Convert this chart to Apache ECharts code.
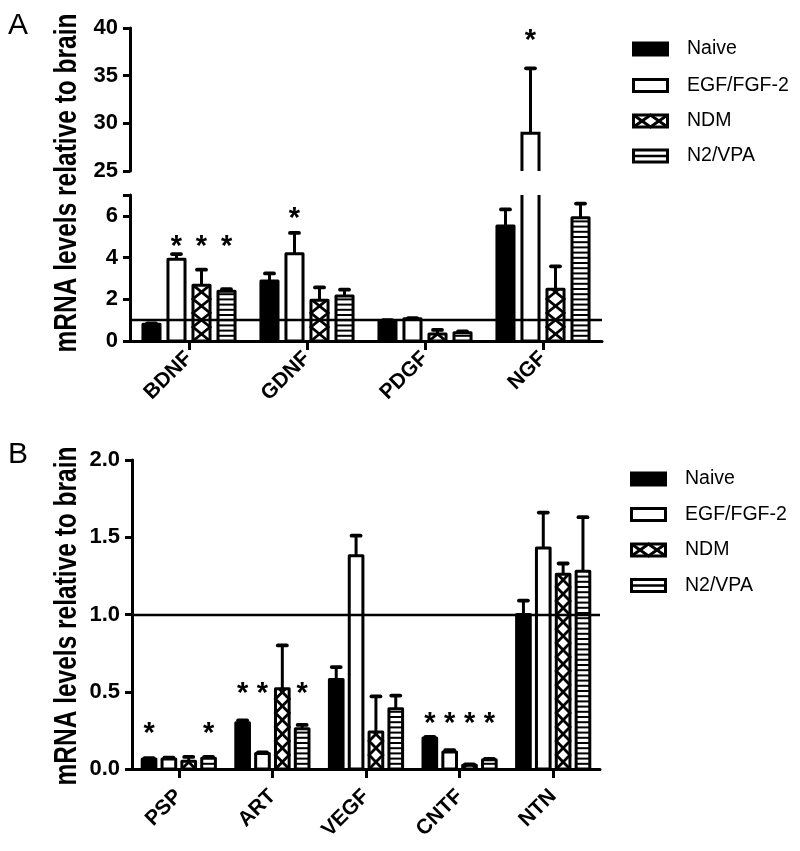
<!DOCTYPE html>
<html><head><meta charset="utf-8">
<script src="https://cdn.jsdelivr.net/npm/echarts@6/dist/echarts.min.js"></script>
<style>html,body{margin:0;padding:0;background:#fff}#c{width:800px;height:851px}</style>
</head><body><div id="c"></div>
<script>
// ---------- DATA ----------
const groups = ['Naive', 'EGF/FGF-2', 'NDM', 'N2/VPA'];

// Panel A
const catsA = ['BDNF', 'GDNF', 'PDGF', 'NGF'];
const naiveA = [0.80, 2.88, 0.97, 5.51];
const naiveErrA = [0.04, 0.36, 0.03, 0.80];
const egfA = [3.92, 4.18, 1.07, 28.97];
const egfErrA = [0.25, 1.00, 0.03, 6.80];
const ndmA = [2.67, 1.95, 0.33, 2.48];
const ndmErrA = [0.75, 0.62, 0.20, 1.10];
const n2A = [2.38, 2.16, 0.40, 5.91];
const n2ErrA = [0.10, 0.30, 0.06, 0.68];
// significance marks (level of the asterisk, in axis units)
const starNaiveA = [null, null, null, null];
const starEgfA = [4.85, 6.2, null, 39.4];
const starNdmA = [4.85, null, null, null];
const starN2A = [4.85, null, null, null];
const ticksAUpper = [25, 30, 35, 40];
const ticksALower = [0, 2, 4, 6];

// Panel B
const catsB = ['PSP', 'ART', 'VEGF', 'CNTF', 'NTN'];
const naiveB = [0.065, 0.30, 0.58, 0.20, 1.00];
const naiveErrB = [0.005, 0.015, 0.08, 0.008, 0.09];
const egfB = [0.065, 0.10, 1.38, 0.11, 1.43];
const egfErrB = [0.008, 0.008, 0.13, 0.012, 0.23];
const ndmB = [0.05, 0.52, 0.24, 0.025, 1.26];
const ndmErrB = [0.028, 0.28, 0.23, 0.005, 0.07];
const n2B = [0.07, 0.26, 0.39, 0.06, 1.28];
const n2ErrB = [0.008, 0.025, 0.085, 0.006, 0.35];
const starNaiveB = [0.27, 0.53, null, 0.335, null];
const starEgfB = [null, 0.53, null, 0.335, null];
const starNdmB = [null, null, null, 0.335, null];
const starN2B = [0.27, 0.53, null, 0.335, null];
const ticksB = [0, 0.5, 1.0, 1.5, 2.0];

const refLevel = 1;

// ---------- DRAWING ----------
const FONT = 'Liberation Sans, Arial, sans-serif';
const LW = 3;
const kinds = ['naive', 'egf', 'ndm', 'n2'];

function patternEls(kind, xl, xr, yt, yb) {
  const els = [];
  if (kind === 'ndm') {
    const h = 14;
    [true, false].forEach(function (startLeft) {
      const pts = [];
      let y = yb, left = startLeft;
      pts.push([left ? xl : xr, y]);
      while (y > yt) {
        const ny = y - h;
        if (ny < yt) {
          const t = (y - yt) / h;
          const cx = left ? xl + (xr - xl) * t : xr - (xr - xl) * t;
          pts.push([cx, yt]);
          break;
        }
        pts.push([left ? xr : xl, ny]);
        y = ny; left = !left;
      }
      els.push({ type: 'polyline', shape: { points: pts }, style: { stroke: '#000', lineWidth: 2.8, fill: null } });
    });
  } else if (kind === 'n2') {
    for (let y = yb - 5.2; y > yt + 2; y -= 5.2) {
      els.push({ type: 'line', shape: { x1: xl, y1: y, x2: xr, y2: y }, style: { stroke: '#000', lineWidth: 2 } });
    }
  }
  return els;
}

function makeBarRender(slot, kind, wf, sf) {
  return function (params, api) {
    const cat = api.value(0), v = api.value(1), err = api.value(2);
    const cs = params.coordSys;
    const band = api.size([1, 0])[0];
    const base = api.coord([cat, 0]);
    const xc = base[0] + (slot - 1.5) * sf * band;
    const w = wf * band;
    const gTop = cs.y, gBot = cs.y + cs.height;
    const yv = api.coord([cat, v])[1];
    if (yv >= gBot - 0.5) return null;
    const topOpen = yv < gTop;
    const botOpen = base[1] > gBot + 0.5;
    const yt = topOpen ? gTop : yv;
    const yb = botOpen ? gBot : base[1];
    const xl = xc - w / 2 + LW / 2, xr = xc + w / 2 - LW / 2;
    const children = [];
    children.push({ type: 'rect', shape: { x: xl, y: yt, width: xr - xl, height: yb - yt }, style: { fill: kind === 'naive' ? '#000' : '#fff' } });
    patternEls(kind, xl, xr, yt, yb).forEach(function (e) { children.push(e); });
    let pts = null;
    if (topOpen) pts = [[xl, yt], [xl, yb], [xr, yb], [xr, yt]];
    else if (botOpen) pts = [[xl, yb], [xl, yt], [xr, yt], [xr, yb]];
    if (pts) children.push({ type: 'polyline', shape: { points: pts }, style: { stroke: '#000', lineWidth: LW, fill: null } });
    else children.push({ type: 'rect', shape: { x: xl, y: yt, width: xr - xl, height: yb - yt }, style: { stroke: '#000', lineWidth: LW, fill: null, lineJoin: 'round' } });
    if (!topOpen && err > 0) {
      const ye = api.coord([cat, v + err])[1];
      children.push({ type: 'line', shape: { x1: xc, y1: yt, x2: xc, y2: ye }, style: { stroke: '#000', lineWidth: LW } });
      children.push({ type: 'line', shape: { x1: xc - 4.5, y1: ye, x2: xc + 4.5, y2: ye }, style: { stroke: '#000', lineWidth: 3.8, lineCap: 'round' } });
    }
    return { type: 'group', children: children };
  };
}

function barSeries(xi, yi, slot, vals, errs, wf, sf) {
  return {
    type: 'custom', xAxisIndex: xi, yAxisIndex: yi, z: 3, silent: true,
    renderItem: makeBarRender(slot, kinds[slot], wf, sf),
    encode: { x: 0, y: 1 },
    data: vals.map(function (v, i) { return [i, v, errs[i]]; })
  };
}

function starSeries(xi, yi, starArrs, sf) {
  const data = [];
  starArrs.forEach(function (arr, slot) {
    arr.forEach(function (lv, i) { if (lv != null) data.push([i, lv, slot]); });
  });
  return {
    type: 'custom', xAxisIndex: xi, yAxisIndex: yi, z: 4, silent: true,
    encode: { x: 0, y: 1 },
    data: data,
    renderItem: function (params, api) {
      const cat = api.value(0), lv = api.value(1), slot = api.value(2);
      const cs = params.coordSys;
      const band = api.size([1, 0])[0];
      const p = api.coord([cat, lv]);
      if (p[1] < cs.y - 20 || p[1] > cs.y + cs.height) return null;
      const xc = p[0] + (slot - 1.5) * sf * band;
      return { type: 'text', x: xc, y: p[1] + 7, style: { text: '*', font: 'bold 29px ' + FONT, fill: '#000', textAlign: 'center', textVerticalAlign: 'middle' } };
    }
  };
}

function refSeries(xi, yi) {
  return {
    type: 'line', xAxisIndex: xi, yAxisIndex: yi, data: [], z: 1, silent: true,
    markLine: { silent: true, symbol: ['none', 'none'], label: { show: false },
      lineStyle: { color: '#000', width: 2.4, type: 'solid' }, emphasis: { disabled: true },
      data: [{ yAxis: refLevel }] }
  };
}

const axisLineStyle = { show: true, lineStyle: { color: '#000', width: 3 } };
const yLabel = { color: '#000', fontSize: 22, fontWeight: 'bold', fontFamily: FONT, margin: 12 };
const tickStyle = { show: true, length: 7, lineStyle: { color: '#000', width: 3 } };

function xAxisCfg(gi, cats, show, margin) {
  return {
    type: 'category', gridIndex: gi, data: cats, show: show,
    axisLine: axisLineStyle,
    axisTick: { show: true, alignWithLabel: true, length: 9, lineStyle: { color: '#000', width: 3 } },
    axisLabel: { color: '#000', fontSize: 21, fontWeight: 'bold', fontFamily: FONT, rotate: 45, margin: margin, interval: 0 },
    splitLine: { show: false }
  };
}

// legend drawing (graphic)
function legendEls(x0, centers) {
  const els = [];
  const sw = 37, sh = 15;
  centers.forEach(function (cy, i) {
    const xl = x0 + LW / 2, xr = x0 + sw - LW / 2, yt = cy - sh / 2 + LW / 2, yb = cy + sh / 2 - LW / 2;
    const kind = kinds[i];
    els.push({ type: 'rect', shape: { x: xl, y: yt, width: xr - xl, height: yb - yt }, style: { fill: kind === 'naive' ? '#000' : '#fff' } });
    if (kind === 'ndm') {
      const cw = (xr - xl) / 2;
      const a = [], b = [];
      for (let k = 0; k <= 2; k++) {
        a.push([xl + k * cw, k % 2 === 0 ? yt : yb]);
        b.push([xl + k * cw, k % 2 === 0 ? yb : yt]);
      }
      els.push({ type: 'polyline', shape: { points: a }, style: { stroke: '#000', lineWidth: 3, fill: null } });
      els.push({ type: 'polyline', shape: { points: b }, style: { stroke: '#000', lineWidth: 3, fill: null } });
    } else if (kind === 'n2') {
      els.push({ type: 'line', shape: { x1: xl, y1: cy, x2: xr, y2: cy }, style: { stroke: '#000', lineWidth: 2.5 } });
    }
    els.push({ type: 'rect', shape: { x: xl, y: yt, width: xr - xl, height: yb - yt }, style: { stroke: '#000', lineWidth: LW, fill: null } });
    els.push({ type: 'text', x: x0 + 55, y: cy, style: { text: groups[i], font: '19.5px ' + FONT, fill: '#000', textAlign: 'left', textVerticalAlign: 'middle' } });
  });
  return els;
}

const graphics = [
  { type: 'text', x: 8, y: 26, style: { text: 'A', font: '30px ' + FONT, fill: '#000', textAlign: 'left', textVerticalAlign: 'middle' } },
  { type: 'text', x: 8, y: 455, style: { text: 'B', font: '30px ' + FONT, fill: '#000', textAlign: 'left', textVerticalAlign: 'middle' } },
  { type: 'text', x: 68, y: 183, rotation: Math.PI / 2, scaleY: 1.25, style: { text: 'mRNA levels relative to brain', font: 'bold 24.5px ' + FONT, fill: '#000', textAlign: 'center', textVerticalAlign: 'middle' } },
  { type: 'text', x: 68, y: 616, rotation: Math.PI / 2, scaleY: 1.25, style: { text: 'mRNA levels relative to brain', font: 'bold 24.5px ' + FONT, fill: '#000', textAlign: 'center', textVerticalAlign: 'middle' } }
].concat(legendEls(632, [49, 85.5, 121, 156])).concat(legendEls(630, [479, 514.5, 550, 585.5]));

const WA = 0.17, SA = 0.212, WB = 0.178, SB = 0.212;

const option = {
  animation: false,
  backgroundColor: '#fff',
  grid: [
    { left: 130, top: 28, width: 472, height: 143 },
    { left: 130, top: 195, width: 472, height: 146 },
    { left: 132, top: 460, width: 468, height: 309 }
  ],
  xAxis: [
    xAxisCfg(0, catsA, false, 14),
    xAxisCfg(1, catsA, true, 14),
    xAxisCfg(2, catsB, true, 24)
  ],
  yAxis: [
    { type: 'value', gridIndex: 0, min: 25, max: 40, interval: 5, axisLine: axisLineStyle, axisTick: tickStyle,
      axisLabel: Object.assign({}, yLabel, { customValues: ticksAUpper }), splitLine: { show: false } },
    { type: 'value', gridIndex: 1, min: 0, max: 7, interval: 1, axisLine: axisLineStyle,
      axisTick: Object.assign({}, tickStyle, { customValues: ticksALower.concat([7]) }),
      axisLabel: Object.assign({}, yLabel, { customValues: ticksALower }), splitLine: { show: false } },
    { type: 'value', gridIndex: 2, min: 0, max: 2, interval: 0.5, axisLine: axisLineStyle,
      axisTick: Object.assign({}, tickStyle, { customValues: ticksB }),
      axisLabel: Object.assign({}, yLabel, { customValues: ticksB, formatter: function (v) { return v.toFixed(1); } }), splitLine: { show: false } }
  ],
  graphic: graphics,
  series: [
    refSeries(1, 1),
    refSeries(2, 2),
    barSeries(0, 0, 0, naiveA, naiveErrA, WA, SA),
    barSeries(0, 0, 1, egfA, egfErrA, WA, SA),
    barSeries(0, 0, 2, ndmA, ndmErrA, WA, SA),
    barSeries(0, 0, 3, n2A, n2ErrA, WA, SA),
    barSeries(1, 1, 0, naiveA, naiveErrA, WA, SA),
    barSeries(1, 1, 1, egfA, egfErrA, WA, SA),
    barSeries(1, 1, 2, ndmA, ndmErrA, WA, SA),
    barSeries(1, 1, 3, n2A, n2ErrA, WA, SA),
    barSeries(2, 2, 0, naiveB, naiveErrB, WB, SB),
    barSeries(2, 2, 1, egfB, egfErrB, WB, SB),
    barSeries(2, 2, 2, ndmB, ndmErrB, WB, SB),
    barSeries(2, 2, 3, n2B, n2ErrB, WB, SB),
    starSeries(0, 0, [starNaiveA, starEgfA, starNdmA, starN2A], SA),
    starSeries(1, 1, [starNaiveA, starEgfA, starNdmA, starN2A], SA),
    starSeries(2, 2, [starNaiveB, starEgfB, starNdmB, starN2B], SB)
  ]
};

const chart = echarts.init(document.getElementById('c'));
chart.setOption(option);
</script>
</body></html>
